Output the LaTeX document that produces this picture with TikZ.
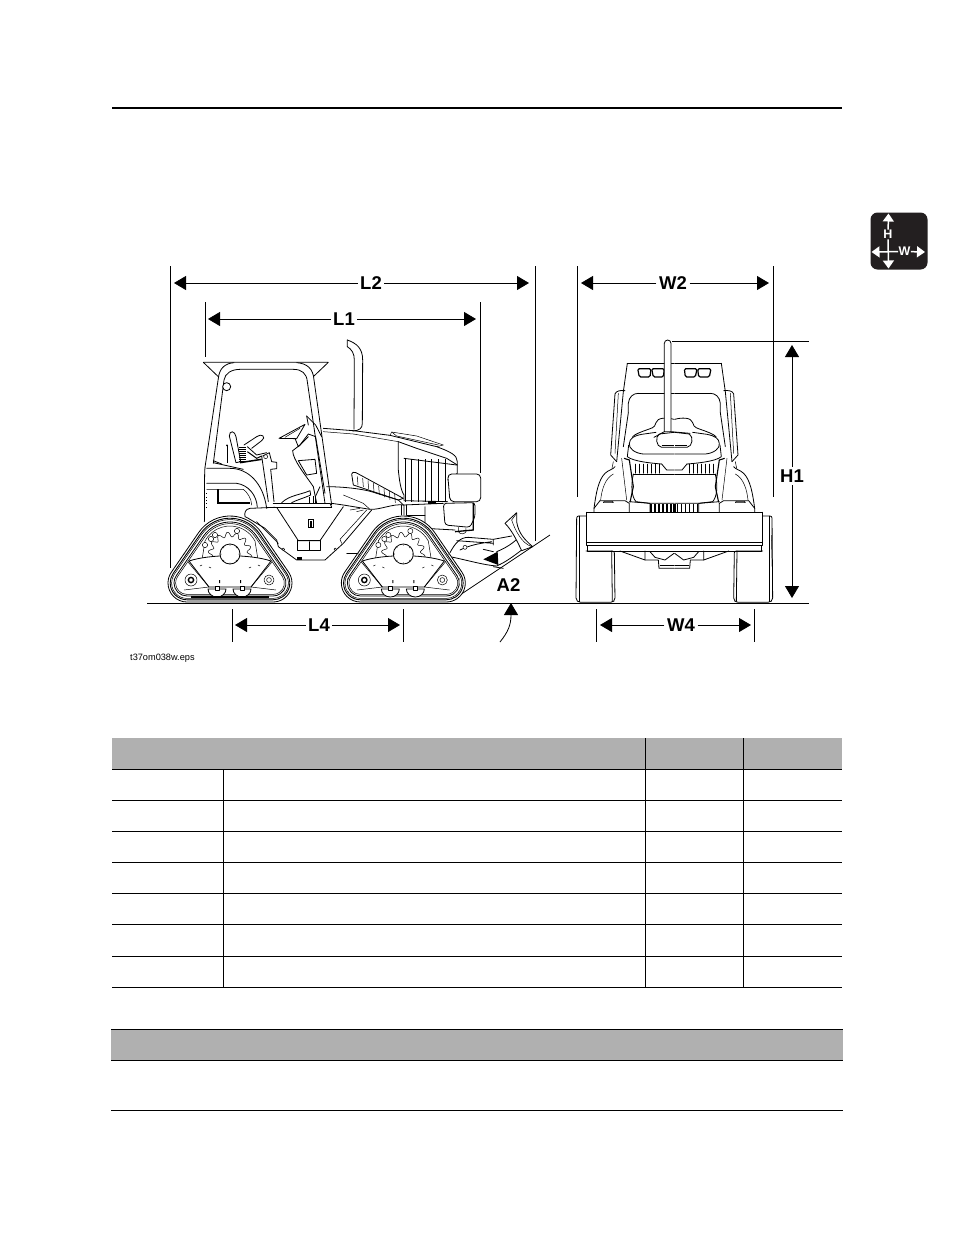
\documentclass[tikz,border=0pt]{standalone}
\usepackage{fontspec}
\setmainfont{Liberation Sans}
\usetikzlibrary{arrows.meta}
\definecolor{hdr}{HTML}{B0B0B0}
\definecolor{badge}{HTML}{231F20}
\tikzset{
  ink/.style={line width=0.8pt,black,line cap=round,line join=round},
  thin ink/.style={line width=0.5pt,black,line cap=round,line join=round},
  extline/.style={line width=0.8pt,black},
  dimarrow/.style={line width=0.8pt,black,-{Triangle[length=12pt,width=14pt]}},
  dimlabel/.style={font=\fontsize{18.5}{20}\selectfont\bfseries,inner sep=2.5pt},
  rule/.style={line width=0.9pt,black},
  whitearrow/.style={line width=1.5pt,white,-{Triangle[length=8pt,width=11pt]}},
}
\newcommand{\hullpath}[1]{%
  ({(38-#1)*cos(214.5)},{(38-#1)*sin(214.5)}) arc[start angle=214.5,end angle=325.5,radius={38-#1}]
  -- ({43+(19-#1)*cos(325.5)},{29+(19-#1)*sin(325.5)}) arc[start angle=325.5,end angle=450,radius={19-#1}]
  -- ({-43+(19-#1)*cos(90)},{29+(19-#1)}) arc[start angle=90,end angle=214.5,radius={19-#1}] -- cycle}
\newcommand{\trackunit}{%
  \filldraw[ink,fill=white] \hullpath{0};
  \draw[line width=0.9pt] \hullpath{2.2};
  \draw[thin ink] \hullpath{3.6};
  \draw[ink] \hullpath{6};
  \draw[thin ink] \hullpath{7.6};
  % gear
  \draw[thin ink,fill=white] plot[domain=165:375,samples=100,smooth] ({(19.5+2.4*sin(14*\x))*cos(\x)},{(19.5+2.4*sin(14*\x))*sin(\x)});
  \draw[thin ink] (-28,6) -- (-25,-13) (28,6) -- (25,-13);
  \draw[thin ink] (-25,-13) arc[start angle=208,end angle=332,radius=28.3];
  % small circles
  \foreach \a/\b in {-19/-15,-25/-9,-15/-19,7/-23}{\draw[thin ink,fill=white] (\a,\b) circle (2.6);}
  % plate
  \filldraw[ink,fill=white] (-41,7) .. controls (-20,0) and (20,0) .. (41,7) -- (21,33) -- (-21,33) -- cycle;
  \filldraw[ink,fill=white] (0,0) circle (10);
  \foreach \a in {0,45,...,315}{\fill ({9*cos(\a)},{9*sin(\a)}) circle (0.5);}
  % plate dots
  \fill (-11,26) rectangle (-10,29) (10,26) rectangle (11,29);
  \draw[thin ink] (-21,13)--(-19,14) (19,14)--(21,13) (-30,12)--(-28,11) (28,11)--(30,12);
  % arms and idlers
  \draw[thin ink] (-42,8) -- (-21,33) -- (-46,36);
  \draw[thin ink] (42,8) -- (21,33) -- (46,36);
  \filldraw[thin ink,fill=white] (-39,26) circle (6);
  \filldraw[thin ink,fill=white] (39,26) circle (5);
  \filldraw[line width=1.4pt,fill=white] (-39,26) circle (2.6);
  \filldraw[thin ink,fill=white] (39,26) circle (2.4);
  % bogies
  \foreach \a in {-13,12}{
    \filldraw[ink,fill=white] (\a-9,35) arc[start angle=180,end angle=0,x radius=9,y radius=8] -- cycle;
    \filldraw[thin ink,fill=white] (\a-1.8,32) rectangle (\a+1.8,36);
  }
  \foreach \a/\b in {-56/25,-53/21,-58/31,-55/38,-50/43,56/25,53/21,58/31,55/38,50/43,-36/-10,36/-10,-45/0,45/0}{\fill (\a,\b) circle (0.45);}
}
\newcommand{\halffront}{%
  % side ROPS panel
  \draw[ink] (135,192) .. controls (138,183) and (150,180) .. (165,182);
  \draw[ink] (135,192) -- (122,375) -- (140,395);
  \draw[thin ink] (145,190) -- (135,370);
  % roof side
  \draw[ink] (172,100) -- (312,100);
  \draw[ink] (172,100) -- (160,185) -- (140,395);
  \draw[ink] (205,190) -- (312,190);
  \draw[ink] (175,248) -- (175,220) .. controls (177,200) and (190,190) .. (205,190);
  \draw[ink] (175,248) -- (160,350);
  % lights
  \filldraw[line width=1.2pt,fill=white,rounded corners=1.5pt] (203,116) -- (243,116) -- (240,141) -- (208,141) -- cycle;
  \filldraw[line width=1.2pt,fill=white,rounded corners=1.5pt] (245,116) -- (283,116) -- (280,141) -- (250,141) -- cycle;
  % fender
  \draw[ink] (72,535) .. controls (78,490) and (85,450) .. (105,430) .. controls (115,420) and (130,418) .. (135,410);
  \draw[thin ink] (92,510) .. controls (95,480) and (105,445) .. (130,432);
  \draw[ink] (90,512) -- (165,512) -- (178,520) -- (178,547);
  \draw[ink] (72,547) -- (72,535) -- (90,512);
  \draw[thin ink] (100,518) -- (130,518) -- (128,514) -- (102,514) -- cycle;
  \draw[thin ink] (130,395) -- (126,415);
  % dome
  \draw[ink] (312,268) .. controls (290,262) and (262,262) .. (258,278) .. controls (255,295) and (240,295) .. (235,298) .. controls (215,305) and (195,312) .. (188,320);
  \draw[ink] (312,372) -- (220,372) .. controls (195,370) and (175,355) .. (178,340) .. controls (180,325) and (190,318) .. (215,313) -- (258,307);
  \draw[ink] (312,352) -- (275,352) .. controls (258,350) and (255,320) .. (268,312) -- (312,307);
  \draw[line width=1.3pt] (275,347) -- (312,347);
  \draw[ink] (176,345) -- (172,380) .. controls (190,395) and (250,400) .. (275,402);
  \draw[line width=1.1pt] (162,385) -- (178,390) -- (190,470) -- (180,517);
  \draw[thin ink] (155,385) -- (170,510);
  % hood grille
  \draw[ink] (275,402) -- (290,420) -- (312,420);
  \draw[ink] (190,432) -- (312,432);
  \foreach \x in {196,208,...,276}{\draw[thin ink] (\x,402) -- (\x,430);}
  \draw[ink] (190,432) .. controls (182,470) and (185,500) .. (198,515) -- (240,520) -- (312,520);
  \foreach \x in {243,255,...,315}{\draw[line width=1.3pt] (\x,521) -- (\x,547);}
  \draw[ink] (178,515) -- (240,520) -- (240,547);
  % track
  \filldraw[ink,fill=white,rounded corners=2pt] (48,558) -- (20,558) -- (18,810) -- (26,817) -- (128,817) -- (135,810) -- (133,663) -- (48,663);
  \draw[thin ink] (27,558) -- (27,815);
  \draw[ink] (125,663) -- (127,815);
  % under carriage
  \draw[ink] (150,663) -- (225,690) -- (225,663);
  \draw[ink] (225,690) -- (265,690) -- (267,715) -- (312,715);
  \draw[ink] (240,665) -- (255,682) -- (285,690) -- (312,670);
  \draw[thin ink] (270,705) -- (312,705);
  % blade
  \draw[line width=1.5pt] (48,547) -- (313,547);
  \draw[ink] (48,547) -- (48,647) -- (313,647);
  \draw[line width=1.5pt] (48,637) -- (313,637);
  \draw[ink] (52,647) -- (52,663) -- (313,663);
}
\begin{document}
\begin{tikzpicture}[x=1pt,y=1pt,yscale=-1]
\useasboundingbox (0,0) rectangle (954,1235);
\fill[white] (0,0) rectangle (954,1235);
% page rule
\coordinate (ruleL) at (112,108); \coordinate (ruleR) at (842,108);
\draw[line width=1.8pt] (ruleL) -- (ruleR);
% section badge
\node[draw=none,fill=badge,rounded corners=7pt,minimum width=57pt,minimum height=57pt,inner sep=0pt] (badgebox) at (899,241) {};
\node[inner sep=0.3pt,white,font=\fontsize{12.5}{13}\selectfont\bfseries] (badgeH) at (888,234.5) {H};
\node[inner sep=0.3pt,white,font=\fontsize{12.5}{13}\selectfont\bfseries] (badgeW) at (904.5,251.5) {W};
\coordinate (crossT) at (888.5,213.5); \coordinate (crossB) at (888.5,268.5);
\coordinate (crossL) at (871.5,252); \coordinate (crossR) at (925,252);
\draw[whitearrow] (badgeH) -- (crossT);
\draw[whitearrow] (badgeH) -- (crossB);
\draw[whitearrow] (badgeW) -- (crossL);
\draw[whitearrow] (badgeW) -- (crossR);
% ---- side view ----
\begin{scope}[shift={(150,330)},scale=1/3]
 % exhaust
 \draw[ink] (592,30) .. controls (620,40) and (638,55) .. (638,90) -- (637,280) .. controls (637,295) and (628,302) .. (608,303);
 \draw[ink] (592,30) -- (592,50) .. controls (605,58) and (613,70) .. (613,90) -- (612,298);
 % hood
 \draw[ink] (520,295) -- (610,302) -- (720,316) -- (860,350) .. controls (900,365) and (922,375) .. (922,395) -- (922,430) -- (893,450);
 \draw[thin ink] (520,305) -- (610,312) -- (745,335);
 \draw[thin ink] (720,316) -- (725,306) -- (800,318) -- (880,345) -- (860,350);
 \draw[thin ink] (725,306) -- (740,318) -- (865,345);
 \draw[ink] (745,335) -- (745,420) .. controls (748,450) and (752,480) .. (762,495) -- (762,510);
 \draw[ink] (745,335) -- (800,355) -- (890,385) -- (922,405);
 % grille
 \draw[ink] (762,385) -- (920,405);
 \foreach \x in {765,785,...,885}{\draw[thin ink] (\x,388) -- (\x,515);}
 \draw[ink] (762,512) -- (893,515);
 % vent
 \draw[ink] (605,432) .. controls (605,426) and (612,426) .. (618,428) -- (760,505) -- (745,510) -- (610,465) -- cycle;
 \foreach \x/\y in {622/440,638/445,654/452,670/460,686/468,702/476,718/484,734/493}{\draw[thin ink] (\x,\y) -- (\x+2,\y+25);}
 % side panel
 \draw[ink] (530,470) .. controls (570,470) and (640,475) .. (680,490) -- (745,510) -- (760,525) -- (880,520);
 \draw[ink] (545,520) -- (580,525) -- (660,538) .. controls (690,540) and (730,520) .. (762,525) -- (762,555);
 \draw[thin ink] (580,495) -- (640,520) -- (660,538);
 \draw[thin ink] (755,525) -- (755,555) (770,525) -- (770,555);
 \fill (835,512) rectangle (858,522);
 % canopy
 \draw[ink] (160,97) -- (535,97) -- (492,138);
 \draw[ink] (160,97) -- (205,140);
 \draw[ink] (165,412) -- (205,145) .. controls (208,115) and (225,100) .. (252,98);
 \draw[ink] (190,400) -- (222,150) .. controls (225,130) and (245,118) .. (270,118) -- (430,118) .. controls (455,118) and (470,130) .. (472,155) -- (525,520);
 \draw[ink] (440,98) .. controls (470,100) and (490,115) .. (492,150) -- (545,525);
 \filldraw[ink,fill=white] (230,170) circle (12);
 % steering
 \draw[ink] (387,325) -- (465,283) -- (440,326) -- cycle;
 \draw[thin ink] (405,322) -- (450,295);
 \draw[ink] (470,258) -- (497,285) -- (515,320);
 \draw[ink] (470,258) -- (475,285);
 \draw[ink] (428,362) -- (450,345) -- (475,312) -- (497,320) -- (525,490);
 \draw[ink] (428,362) .. controls (428,390) and (470,440) .. (490,470) -- (500,520);
 \draw[ink] (445,392) -- (495,388) -- (500,430) -- (470,435) -- cycle;
 \draw[ink] (435,325) -- (445,350) -- (475,320);
 % seat, controls
 \draw[ink] (238,318) .. controls (238,300) and (255,302) .. (258,320) -- (272,395) -- (258,398) -- (238,318);
 \draw[ink] (282,345) -- (320,320) .. controls (335,308) and (350,322) .. (335,332) -- (305,355);
 \foreach \y in {352,358,...,394}{\draw[line width=0.9pt] (268,\y) -- (287,\y);}
 \draw[line width=1.5pt] (270,398) -- (335,388);
 \draw[line width=1pt] (292,365) -- (320,385) -- (335,378);
 \draw[ink] (292,350) -- (320,375) -- (350,368);
 \draw[line width=1pt] (231,345) -- (231,400);
 \fill (231,346) circle (3);
 \draw[ink] (190,392) -- (215,402);
 \draw[ink] (338,378) -- (358,368) -- (365,395) -- (380,397) -- (380,416) -- (362,418) -- (372,515);
 \draw[ink] (335,378) -- (355,515);
 \filldraw[thin ink,fill=white] (347,380) circle (6);
 % operator platform / fender
 \draw[ink] (170,415) -- (240,415) .. controls (295,415) and (340,460) .. (350,535);
 \draw[ink] (190,398) -- (280,418);
 \draw[ink] (165,412) .. controls (162,440) and (165,560) .. (163,575);
 \draw[ink] (170,460) -- (260,460) .. controls (295,465) and (320,495) .. (322,532);
 \draw[line width=1.8pt] (205,478) -- (205,520) -- (300,520);
 \draw[thin ink] (170,478) -- (280,478) .. controls (290,485) and (305,505) .. (305,525);
 \foreach \y in {490,500,510,520,530}{\fill (168,\y) rectangle (172,\y+2);}
 % centre deck
 \draw[ink] (370,520) -- (540,520);
 \draw[line width=1.2pt] (370,532) -- (545,532);
 \draw[ink] (540,520) -- (545,532);
 \draw[ink] (395,518) .. controls (420,495) and (450,495) .. (480,482) -- (482,495) .. controls (460,505) and (440,510) .. (425,518);
 \draw[line width=1.2pt] (478,500) -- (478,518) (490,498) -- (490,518) (497,498) -- (497,518);
 \draw[ink] (510,470) -- (497,498);
 \draw[ink] (380,532) -- (445,632) -- (510,632) -- (580,530);
 \draw[line width=1.1pt] (476,568) rectangle (490,592);
 \fill (480,572) rectangle (487,590);
 \draw[ink] (442,632) rectangle (510,660);
 \draw[ink] (478,635) -- (478,660);
 % frame
 \draw[ink] (375,532) -- (300,535) .. controls (285,538) and (283,548) .. (285,560) -- (295,565) -- (345,595) -- (380,630) -- (385,650) -- (440,690) -- (525,690) -- (580,640) -- (665,540);
 \draw[thin ink] (320,575) -- (385,640) (575,640) -- (570,628) -- (650,540);
 \filldraw[thin ink,fill=white] (400,658) circle (4);
 \filldraw[thin ink,fill=white] (556,658) circle (4);
 \fill (440,682) rectangle (456,690);
 \draw[thin ink] (590,670) -- (700,670);
 \draw[thin ink] (600,540) -- (630,535) (620,545) -- (640,540);
 % lamp
 \draw[ink] (825,530) -- (825,595) -- (915,600);
 \draw[ink] (770,555) -- (825,555);
 \filldraw[ink,fill=white,rounded corners=3pt] (880,520) -- (975,518) -- (975,560) -- (960,592) -- (885,585) -- cycle;
 \filldraw[ink,fill=white,rounded corners=4pt] (893,432) -- (992,432) -- (992,515) -- (900,515) -- cycle;
 \draw[line width=1.3pt] (970,518) -- (970,600) -- (915,605);
 \draw[thin ink] (925,592) -- (925,605) .. controls (930,615) and (945,612) .. (948,605) -- (948,595);
 % blade mount
 \draw[ink] (900,668) .. controls (915,640) and (930,622) .. (955,622) -- (1030,628) -- (1085,618);
 \draw[ink] (900,680) .. controls (950,690) and (1000,705) .. (1040,708) .. controls (1070,695) and (1095,675) .. (1115,660);
 \draw[ink] (930,660) .. controls (960,645) and (990,640) .. (1025,635) (920,632) -- (1030,640);
 \filldraw[thin ink,fill=white] (945,652) circle (6);
 \draw[ink] (1000,658) -- (1030,665) (1030,628) -- (1030,645);
 \draw[ink] (1040,665) .. controls (1065,655) and (1090,640) .. (1108,620);
 \draw[ink] (1030,710) -- (1060,715);
 \filldraw[ink,fill=white] (1065,580) -- (1100,548) -- (1100,575) .. controls (1105,610) and (1125,630) .. (1148,650) -- (1115,662) .. controls (1100,630) and (1085,600) .. (1065,580) -- cycle;
 \draw[thin ink] (1085,570) -- (1100,550) (1085,570) .. controls (1095,600) and (1115,640) .. (1145,650);
 % grade line and angle arrow
 \coordinate (slopeA) at (930,795);
 \coordinate (slopeB) at (1200,615);
 \draw[extline] (slopeA) -- (slopeB);
 \fill (1000,688) -- (1043,665) -- (1045,705) -- cycle;
 % tracks
 \begin{scope}[shift={(240,672)},scale=3]\trackunit
   \draw[line width=1.6pt] (-39,43) -- (39,43);
 \end{scope}
 \begin{scope}[shift={(760,672)},scale=3]\trackunit\end{scope}
\end{scope}
% ---- front view ----
\begin{scope}[shift={(570,330)},scale=1/3]
 \foreach \m in {1,-1}{
  \begin{scope}[shift={(313,0)},xscale=\m,shift={(-313,0)}]\halffront\end{scope}
 }
 \draw[thin ink] (604,615) -- (607,720);
 \filldraw[ink,fill=white] (283,305) -- (283,40) arc[start angle=180,end angle=360,radius=10] -- (303,305) -- cycle;
 \draw[ink] (252,322) -- (283,305) (303,305) -- (360,310);
\end{scope}
% ---- ground line and dimensions ----
\coordinate (gndL) at (147,603); \coordinate (gndR) at (809,603);
\draw[extline] (gndL) -- (gndR);
% L2
\coordinate (e1t) at (170,266); \coordinate (e1b) at (170,568);
\coordinate (e2t) at (535,266); \coordinate (e2b) at (535,541);
\draw[extline] (e1t) -- (e1b); \draw[extline] (e2t) -- (e2b);
\node[dimlabel] (L2) at (371,283) {L2};
\coordinate (L2a) at (174,283); \coordinate (L2b) at (529,283);
\draw[dimarrow] (L2) -- (L2a); \draw[dimarrow] (L2) -- (L2b);
% L1
\coordinate (e3t) at (205,302); \coordinate (e3b) at (205,357);
\coordinate (e4t) at (480,302); \coordinate (e4b) at (480,473);
\draw[extline] (e3t) -- (e3b); \draw[extline] (e4t) -- (e4b);
\node[dimlabel] (L1) at (344,319) {L1};
\coordinate (L1a) at (208,319); \coordinate (L1b) at (476,319);
\draw[dimarrow] (L1) -- (L1a); \draw[dimarrow] (L1) -- (L1b);
% L4
\coordinate (e5t) at (232,609); \coordinate (e5b) at (232,642);
\coordinate (e6t) at (403,609); \coordinate (e6b) at (403,642);
\draw[extline] (e5t) -- (e5b); \draw[extline] (e6t) -- (e6b);
\node[dimlabel] (L4) at (319,625) {L4};
\coordinate (L4a) at (235,625); \coordinate (L4b) at (400,625);
\draw[dimarrow] (L4) -- (L4a); \draw[dimarrow] (L4) -- (L4b);
% W2
\coordinate (e7t) at (577,266); \coordinate (e7b) at (577,497);
\coordinate (e8t) at (773,266); \coordinate (e8b) at (773,497);
\draw[extline] (e7t) -- (e7b); \draw[extline] (e8t) -- (e8b);
\node[dimlabel] (W2) at (673,283) {W2};
\coordinate (W2a) at (581,283); \coordinate (W2b) at (769,283);
\draw[dimarrow] (W2) -- (W2a); \draw[dimarrow] (W2) -- (W2b);
% W4
\coordinate (e9t) at (596,609); \coordinate (e9b) at (596,642);
\coordinate (e10t) at (754,609); \coordinate (e10b) at (754,642);
\draw[extline] (e9t) -- (e9b); \draw[extline] (e10t) -- (e10b);
\node[dimlabel] (W4) at (681,625) {W4};
\coordinate (W4a) at (600,625); \coordinate (W4b) at (751,625);
\draw[dimarrow] (W4) -- (W4a); \draw[dimarrow] (W4) -- (W4b);
% H1
\coordinate (htopL) at (672,341); \coordinate (htopR) at (809,341);
\draw[extline] (htopL) -- (htopR);
\node[dimlabel] (H1) at (792,476) {H1};
\coordinate (H1a) at (792,345); \coordinate (H1b) at (792,598);
\draw[dimarrow] (H1) -- (H1a); \draw[dimarrow] (H1) -- (H1b);
% A2
\node[dimlabel] (A2) at (508.5,585) {A2};
\coordinate (A2tip) at (511,603); \coordinate (A2tail) at (500,642);
\draw[dimarrow] (A2tail) .. controls (508,632) and (511,625) .. (A2tip);
% file name
\node[anchor=west,inner sep=0pt,font=\fontsize{9.2}{10}\selectfont] (fname) at (130,658.5) {t37om038w.eps};
% ---- table 1 ----
\fill[hdr] (112,738) rectangle (842,769);
\foreach \y in {769,800,831,862,893,924,956,987}{\draw[rule] (112,\y) -- (842,\y);}
\draw[rule] (223,769) -- (223,987);
\foreach \x in {645.5,743.5}{\draw[rule] (\x,738) -- (\x,987);}
% ---- table 2 ----
\fill[hdr] (111,1029) rectangle (843,1060);
\draw[rule] (111,1029) -- (843,1029);
\draw[rule] (111,1060) -- (843,1060);
\draw[rule] (111,1110) -- (843,1110);
\end{tikzpicture}
\end{document}
